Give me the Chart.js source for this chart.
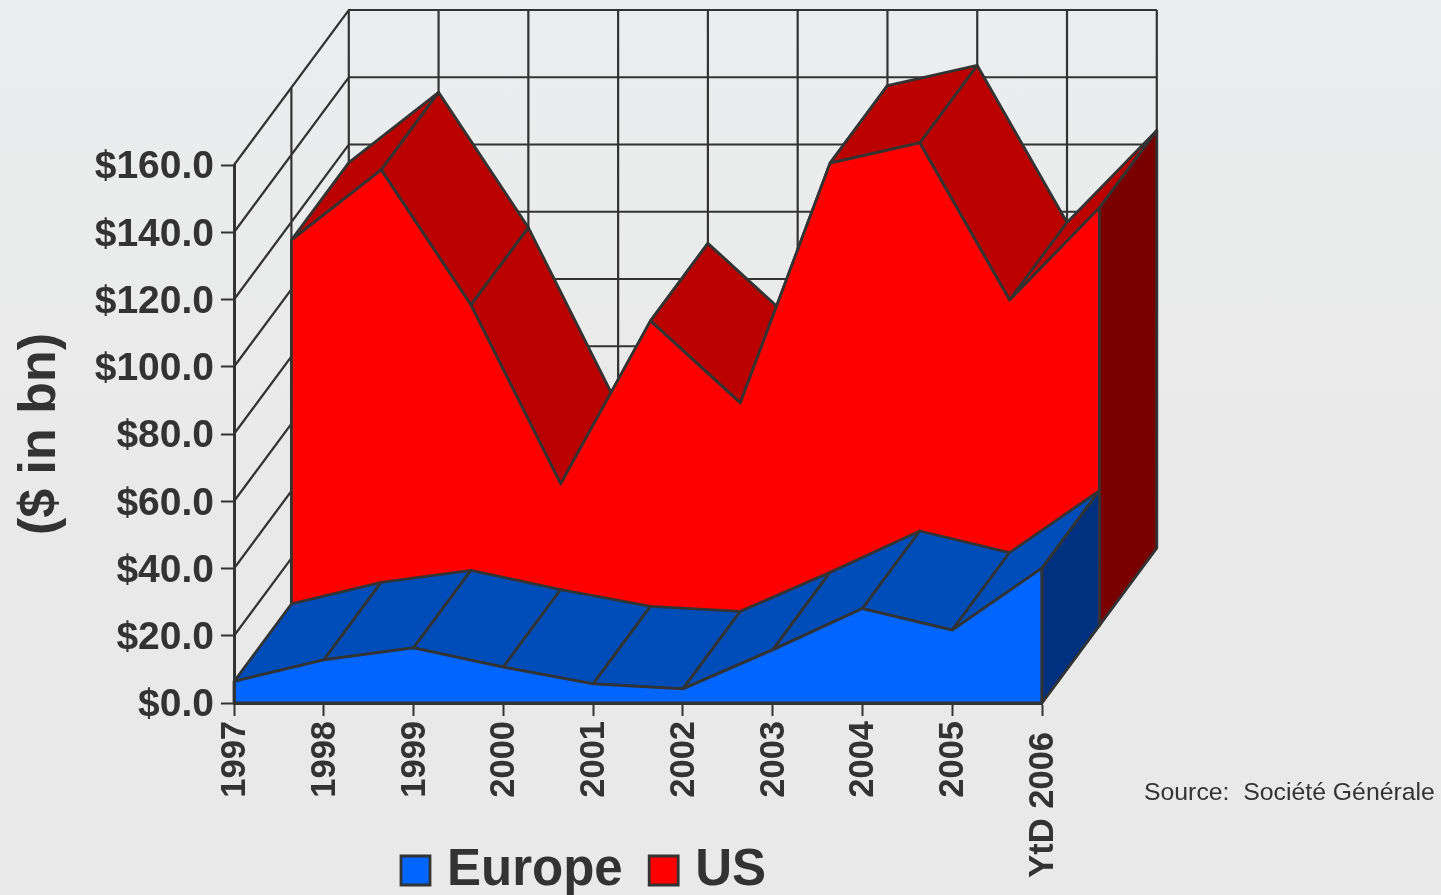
<!DOCTYPE html>
<html>
<head>
<meta charset="utf-8">
<style>
html,body{margin:0;padding:0;background:#eaeaea;width:1441px;height:895px;overflow:hidden}
#wrap{position:relative;width:1441px;height:895px;background:linear-gradient(#ecedee,#e9e9e9 60%)}
canvas{display:block}
#source{position:absolute;left:1144px;top:777px;font:24.8px/30px "Liberation Sans",Arial,sans-serif;color:#333;white-space:pre}
</style>
<script src="https://cdn.jsdelivr.net/npm/chart.js@4"></script>
</head>
<body>
<div id="wrap"><canvas id="c" width="1441" height="895"></canvas><div id="source">Source:  Société Générale</div></div>
<script>
const categories = ['1997','1998','1999','2000','2001','2002','2003','2004','2005','YtD 2006'];
const europe = [6.4,12.8,16.4,10.7,5.7,4.2,15.8,28.1,21.7,40.1];
const us = [114.6,135.5,95.3,42.1,90.6,66.2,137.5,143.5,96.8,124.2];
const yTicks = [0,20,40,60,80,100,120,140,160];
const seriesNames = ['Europe','US'];

const INK = '#333333';
const COL = {
  euFront:'#0066ff', euTop:'#004cb8', euCap:'#003080',
  usFront:'#ff0000', usTop:'#bb0000', usCap:'#7a0000'
};
// oblique projection: one depth step in axis units
const DEPTH_X = 0.6393, DEPTH_Y = 23.05;
const P = (i, v, d) => ({x: i + d * DEPTH_X, y: v + d * DEPTH_Y});
const GAP = {x: NaN, y: NaN};
const last = categories.length - 1;
const top160 = yTicks[yTicks.length - 1];

function poly(label, pts, color, width) {
  return {label, data: pts.concat([pts[0]]), backgroundColor: color, borderColor: INK,
    borderWidth: width || 2.8, fill: 'shape', pointRadius: 0, tension: 0, clip: false, borderJoinStyle: 'round'};
}
function gridLines() {
  const pts = [];
  yTicks.forEach(v => { pts.push(P(0, v, 0), P(0, v, 2), P(last, v, 2), GAP); });
  categories.forEach((c, i) => { pts.push(P(i, 0, 2), P(i, top160, 2), GAP); });
  pts.push(P(0, 0, 1), P(0, top160, 1), GAP);
  pts.push(P(last, 0, 0), P(last, 0, 2), GAP);
  return {label: 'grid', data: pts, borderColor: INK, borderWidth: 2.2, fill: false, pointRadius: 0,
    tension: 0, clip: false, spanGaps: false};
}
function area(name, vals, d, front, topC, capC) {
  const out = [];
  vals.forEach((v, i) => {
    if (i < last) out.push(poly(name + ' top ' + categories[i],
      [P(i, v, d), P(i + 1, vals[i + 1], d), P(i + 1, vals[i + 1], d + 1), P(i, v, d + 1)], topC));
  });
  const pts = [P(0, 0, d)].concat(vals.map((v, i) => P(i, v, d)), [P(last, 0, d)]);
  out.push(poly(name, pts, front));
  out.push(poly(name + ' side', [P(last, vals[last], d), P(last, vals[last], d + 1), P(last, 0, d + 1), P(last, 0, d)], capC));
  return out;
}
// back to front, then reversed: Chart.js paints the first dataset last
const datasets = [gridLines()]
  .concat(area(seriesNames[1], us, 1, COL.usFront, COL.usTop, COL.usCap))
  .concat(area(seriesNames[0], europe, 0, COL.euFront, COL.euTop, COL.euCap))
  .reverse();

const placeItems = {
  id: 'placeItems',
  afterLayout(chart) {
    const l = chart.legend;
    const dx = 392 - (l.left + (l.right - l.left - l.lineWidths[0]) / 2);
    l.left += dx; l.right += dx;
    l.top = 810; l.bottom = 810 + l.height;
    // the depth walls stand outside the front plane: let fills and long labels reach them
    const a = chart.chartArea;
    a.left = 0; a.top = 0; a.right = chart.width; a.bottom = chart.height;
    a.width = chart.width; a.height = chart.height;
    chart.scales.x.bottom = chart.height;
  },
  beforeDraw(chart) {
    if (chart._nudged) return;
    chart._nudged = true;
    const xItems = chart.scales.x.getLabelItems();
    xItems.forEach(it => { it.options.translation[0] += 1.5; });
    xItems[last].options.translation[1] += 11;
    chart.scales.y.getLabelItems().forEach(it => { it.options.translation[1] += 2.5; });
  }
};

new Chart(document.getElementById('c'), {
  type: 'line',
  data: {datasets},
  plugins: [placeItems],
  options: {
    responsive: false,
    animation: false,
    events: [],
    layout: {padding: {top: 165, right: 399, left: 0, bottom: 0}},
    scales: {
      x: {
        type: 'linear', min: 0, max: last,
        afterFit(s) { s.height = 895 - 703 - (s.chart.legend ? s.chart.legend.height : 0); },
        border: {color: INK, width: 3, z: 1},
        grid: {display: true, drawOnChartArea: false, drawTicks: true, tickLength: 13, tickWidth: 2, tickColor: INK, color: INK},
        ticks: {stepSize: 1, autoSkip: false, minRotation: 90, maxRotation: 90, padding: 5, color: INK,
          font: {family: '"Liberation Sans"', weight: 'bold', size: 34.5},
          callback: v => categories[v]}
      },
      y: {
        type: 'linear', min: 0, max: top160,
        afterFit(s) { s.width = 234; },
        border: {color: INK, width: 3, z: 1},
        grid: {display: true, drawOnChartArea: false, drawTicks: true, tickLength: 13, tickWidth: 2, tickColor: INK, color: INK},
        ticks: {stepSize: 20, padding: 7, color: INK,
          font: {family: '"Liberation Sans"', weight: 'bold', size: 39},
          callback: v => '$' + v.toFixed(1)},
        title: {display: true, text: '($ in bn)', color: INK, padding: {top: 9, bottom: 0},
          font: {family: '"Liberation Sans"', weight: 'bold', size: 52}}
      }
    },
    plugins: {
      tooltip: {enabled: false},
      title: {display: false},
      legend: {
        position: 'bottom',
        labels: {
          color: INK,
          font: {family: '"Liberation Sans"', weight: 'bold', size: 51},
          usePointStyle: true, pointStyle: 'rect', boxWidth: 12, boxHeight: 29, padding: 35,
          filter: item => seriesNames.includes(item.text)
        }
      }
    }
  }
});
</script>
</body>
</html>
